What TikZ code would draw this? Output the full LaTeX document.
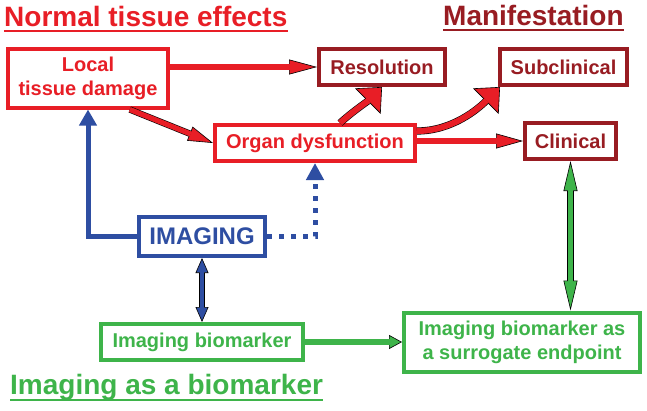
\documentclass[tikz,border=0pt]{standalone}
\usepackage{fontspec}
\setmainfont{Liberation Sans}
\usetikzlibrary{positioning, arrows.meta}

\definecolor{tissuered}{RGB}{232,30,38}
\definecolor{manired}{RGB}{152,28,34}
\definecolor{imgblue}{RGB}{46,78,162}
\definecolor{bioGreen}{RGB}{62,180,74}

% fat arrow with a thin black rim: colour, shaft, tip length, tip width, path
\newcommand{\fatarrow}[5]{%
  \pgfmathsetlengthmacro{\fatrim}{#2+1.2pt}%
  \pgfmathsetlengthmacro{\fatcut}{#3-1pt}%
  \draw[line width=\fatrim, black,
        -{Triangle[length=#3, width=#4, line width=.6pt, fill=#1]}] #5;
  \draw[line width=#2, #1, shorten >=\fatcut] #5;}
\newcommand{\fatdarrow}[5]{%
  \pgfmathsetlengthmacro{\fatrim}{#2+1.2pt}%
  \pgfmathsetlengthmacro{\fatcut}{#3-1pt}%
  \draw[line width=\fatrim, black,
        {Triangle[length=#3, width=#4, line width=.6pt, fill=#1]}-{Triangle[length=#3, width=#4, line width=.6pt, fill=#1]}] #5;
  \draw[line width=#2, #1, shorten <=\fatcut, shorten >=\fatcut] #5;}

\begin{document}
\begin{tikzpicture}[%
  x = 1pt, y = -1pt,
  box/.style     = {rectangle, draw, line width=4pt, fill=white,
                    align=center, inner sep=.3em,
                    font=\fontsize{20}{24}\selectfont\bfseries},
  effect/.style  = {box, draw=tissuered, text=tissuered},
  manif/.style   = {box, draw=manired, text=manired},
  imaging/.style = {box, draw=imgblue, text=imgblue,
                    font=\fontsize{24}{28}\selectfont\bfseries},
  marker/.style  = {box, draw=bioGreen, text=bioGreen},
  heading/.style = {inner sep=0pt, anchor=base west,
                    font=\fontsize{28}{30}\selectfont\bfseries},
  uline/.style   = {line width=2.6pt}
]
  \useasboundingbox (0,0) rectangle (647,410);

  % headings
  \node[heading, text=tissuered] (hnte) at (4,26) {Normal tissue effects};
  \node[heading, text=manired] (hman) at (443,25) {Manifestation};
  \node[heading, text=bioGreen] (hbio) at (10,394) {Imaging as a biomarker};
  \draw[uline, tissuered] ([yshift=-5pt]hnte.base west) -- ([yshift=-5pt]hnte.base east);
  \draw[uline, manired] ([yshift=-5pt]hman.base west) -- ([yshift=-5pt]hman.base east);
  \draw[uline, bioGreen] ([yshift=-6pt]hbio.base west) -- ([yshift=-6pt]hbio.base east);

  % boxes
  \node[effect, minimum width=160pt, minimum height=59pt] (local)
       at (88,78) {Local\\tissue damage};
  \node[effect, minimum width=200pt, minimum height=36pt] (organ)
       at (315,143) {Organ dysfunction};
  \node[manif, minimum width=126pt, minimum height=36pt] (resol)
       at (382,67) {Resolution};
  \node[manif, minimum width=127pt, minimum height=36pt] (subcl)
       at (563.5,67) {Subclinical};
  \node[manif, minimum width=91pt, minimum height=36pt] (clin)
       at (570.5,141) {Clinical};
  \node[imaging, minimum width=126pt, minimum height=39pt] (img)
       at (202,236.5) {IMAGING};
  \node[marker, minimum width=202pt, minimum height=36pt] (biom)
       at (202,342) {Imaging biomarker};
  \node[marker, minimum width=236pt, minimum height=59pt] (surr)
       at (522,342) {Imaging biomarker as\\a surrogate endpoint};

  % normal tissue pathway
  \fatarrow{tissuered}{5.2pt}{28pt}{15pt}{(local.east |- resol.west) -- (resol.west)}
  \fatarrow{tissuered}{5.2pt}{25pt}{15pt}{(local.-37) -- (organ.west)}
  \fatarrow{tissuered}{5.2pt}{27pt}{15pt}{(organ.east |- clin.west) -- (clin.west)}
  \fatarrow{tissuered}{6pt}{20pt}{36pt}%
    {([xshift=25pt]organ.north) .. controls +(12,-11) and +(-14,14) .. (resol.south)}
  \fatarrow{tissuered}{6pt}{20pt}{36pt}%
    {([yshift=12pt]organ.east) .. controls +(35,0) and +(-22,22) .. ([xshift=2pt]subcl.south west)}

  % imaging
  \draw[imgblue, line width=5pt, -{Triangle[length=16pt, width=17pt]}]
    (img.west) -| (local.south);
  \draw[imgblue, line width=5pt, dash pattern=on 5pt off 7pt,
        -{Triangle[length=17pt, width=17pt]}]
    (img.east) -| (organ.south);
  \fatdarrow{imgblue}{4.4pt}{15pt}{13pt}{(img.south) -- (biom.north)}

  % biomarker
  \fatarrow{bioGreen}{5.2pt}{13pt}{14pt}{(biom.east) -- (surr.west)}
  \fatdarrow{bioGreen}{5.6pt}{30pt}{14pt}{(clin.south) -- (clin.south |- surr.north)}

\end{tikzpicture}
\end{document}
